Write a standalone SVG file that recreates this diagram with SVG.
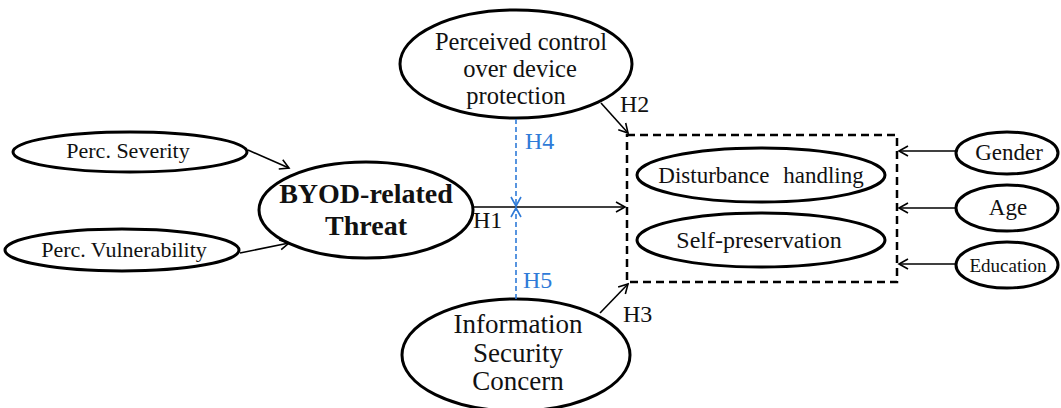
<svg xmlns="http://www.w3.org/2000/svg" width="1061" height="408" viewBox="0 0 1061 408">
<defs>
<marker id="ah" markerWidth="12" markerHeight="12" refX="10" refY="6" orient="auto" markerUnits="userSpaceOnUse"><path d="M1,1 L10,6 L1,11" fill="none" stroke="#000" stroke-width="1.6"/></marker>
<marker id="ahb" markerWidth="12" markerHeight="12" refX="10" refY="6" orient="auto" markerUnits="userSpaceOnUse"><path d="M1,1 L10,6 L1,11" fill="none" stroke="#2f7bd8" stroke-width="1.6"/></marker>
</defs>
<style>
.n{fill:#fff;stroke:#000;stroke-width:3}
.t{font-family:"Liberation Serif","Times New Roman",serif;fill:#111;text-anchor:middle}
.c{stroke:#000;stroke-width:1.6;fill:none;marker-end:url(#ah)}
.b{stroke:#2f7bd8;stroke-width:1.6;fill:none;stroke-dasharray:5,3;marker-end:url(#ahb)}
.lb{font-family:"Liberation Serif","Times New Roman",serif;font-size:24px;fill:#111}
.lbb{font-family:"Liberation Serif","Times New Roman",serif;font-size:24px;fill:#2f7bd8}
</style>
<rect width="1061" height="408" fill="#fff"/>
<g id="pcdp"><ellipse class="n" cx="516" cy="64" rx="116" ry="54"/>
<text class="t" font-size="24.5" x="521" y="50">Perceived control</text>
<text class="t" font-size="24.5" x="520" y="77">over device</text>
<text class="t" font-size="24.5" x="516" y="104">protection</text></g>
<g id="severity"><ellipse class="n" cx="130" cy="152" rx="117" ry="20"/>
<text class="t" font-size="22" x="128" y="158">Perc. Severity</text></g>
<g id="vulnerability"><ellipse class="n" cx="122" cy="250" rx="117" ry="21"/>
<text class="t" font-size="22" x="124" y="257">Perc. Vulnerability</text></g>
<g id="byod"><ellipse class="n" cx="366" cy="210" rx="107" ry="48"/>
<text class="t" font-size="28" font-weight="bold" x="366" y="203">BYOD-related</text>
<text class="t" font-size="28" font-weight="bold" x="366" y="235">Threat</text></g>
<g id="isc"><ellipse class="n" cx="516" cy="355" rx="114" ry="56"/>
<text class="t" font-size="27" x="518" y="333">Information</text>
<text class="t" font-size="27" x="518" y="362">Security</text>
<text class="t" font-size="27" x="518" y="390">Concern</text></g>
<g id="outcome"><rect x="627" y="135" width="270" height="147" fill="none" stroke="#000" stroke-width="2.5" stroke-dasharray="8,5"/></g>
<g id="disturbance"><ellipse class="n" cx="761" cy="175" rx="124" ry="27"/>
<text class="t" font-size="23" x="761" y="183" word-spacing="8">Disturbance handling</text></g>
<g id="selfpres"><ellipse class="n" cx="761" cy="240" rx="124" ry="27"/>
<text class="t" font-size="24" x="759" y="248">Self-preservation</text></g>
<g id="gender"><ellipse class="n" cx="1007" cy="153" rx="51" ry="21"/>
<text class="t" font-size="23" x="1009" y="160">Gender</text></g>
<g id="age"><ellipse class="n" cx="1007" cy="208" rx="51" ry="23"/>
<text class="t" font-size="23" x="1008" y="215">Age</text></g>
<g id="education"><ellipse class="n" cx="1007" cy="265" rx="51" ry="23"/>
<text class="t" font-size="19" x="1008" y="272">Education</text></g>
<g id="connectors">
<line class="c" x1="248" y1="150" x2="289" y2="168"/>
<line class="c" x1="240" y1="253" x2="289" y2="243"/>
<line class="c" x1="473" y1="207" x2="625" y2="207"/>
<line class="c" x1="601" y1="103" x2="628" y2="133"/>
<line class="c" x1="600" y1="313" x2="628" y2="284"/>
<line class="c" x1="956" y1="151" x2="899" y2="151"/>
<line class="c" x1="956" y1="208" x2="899" y2="208"/>
<line class="c" x1="956" y1="264" x2="899" y2="264"/>
<line class="b" x1="516" y1="119" x2="516" y2="206"/>
<line class="b" x1="516" y1="299" x2="516" y2="208"/>
<text class="lb" x="473" y="228">H1</text>
<text class="lb" x="620" y="112">H2</text>
<text class="lb" x="623" y="322">H3</text>
<text class="lbb" x="525" y="149">H4</text>
<text class="lbb" x="523" y="288">H5</text>
</g>
</svg>
